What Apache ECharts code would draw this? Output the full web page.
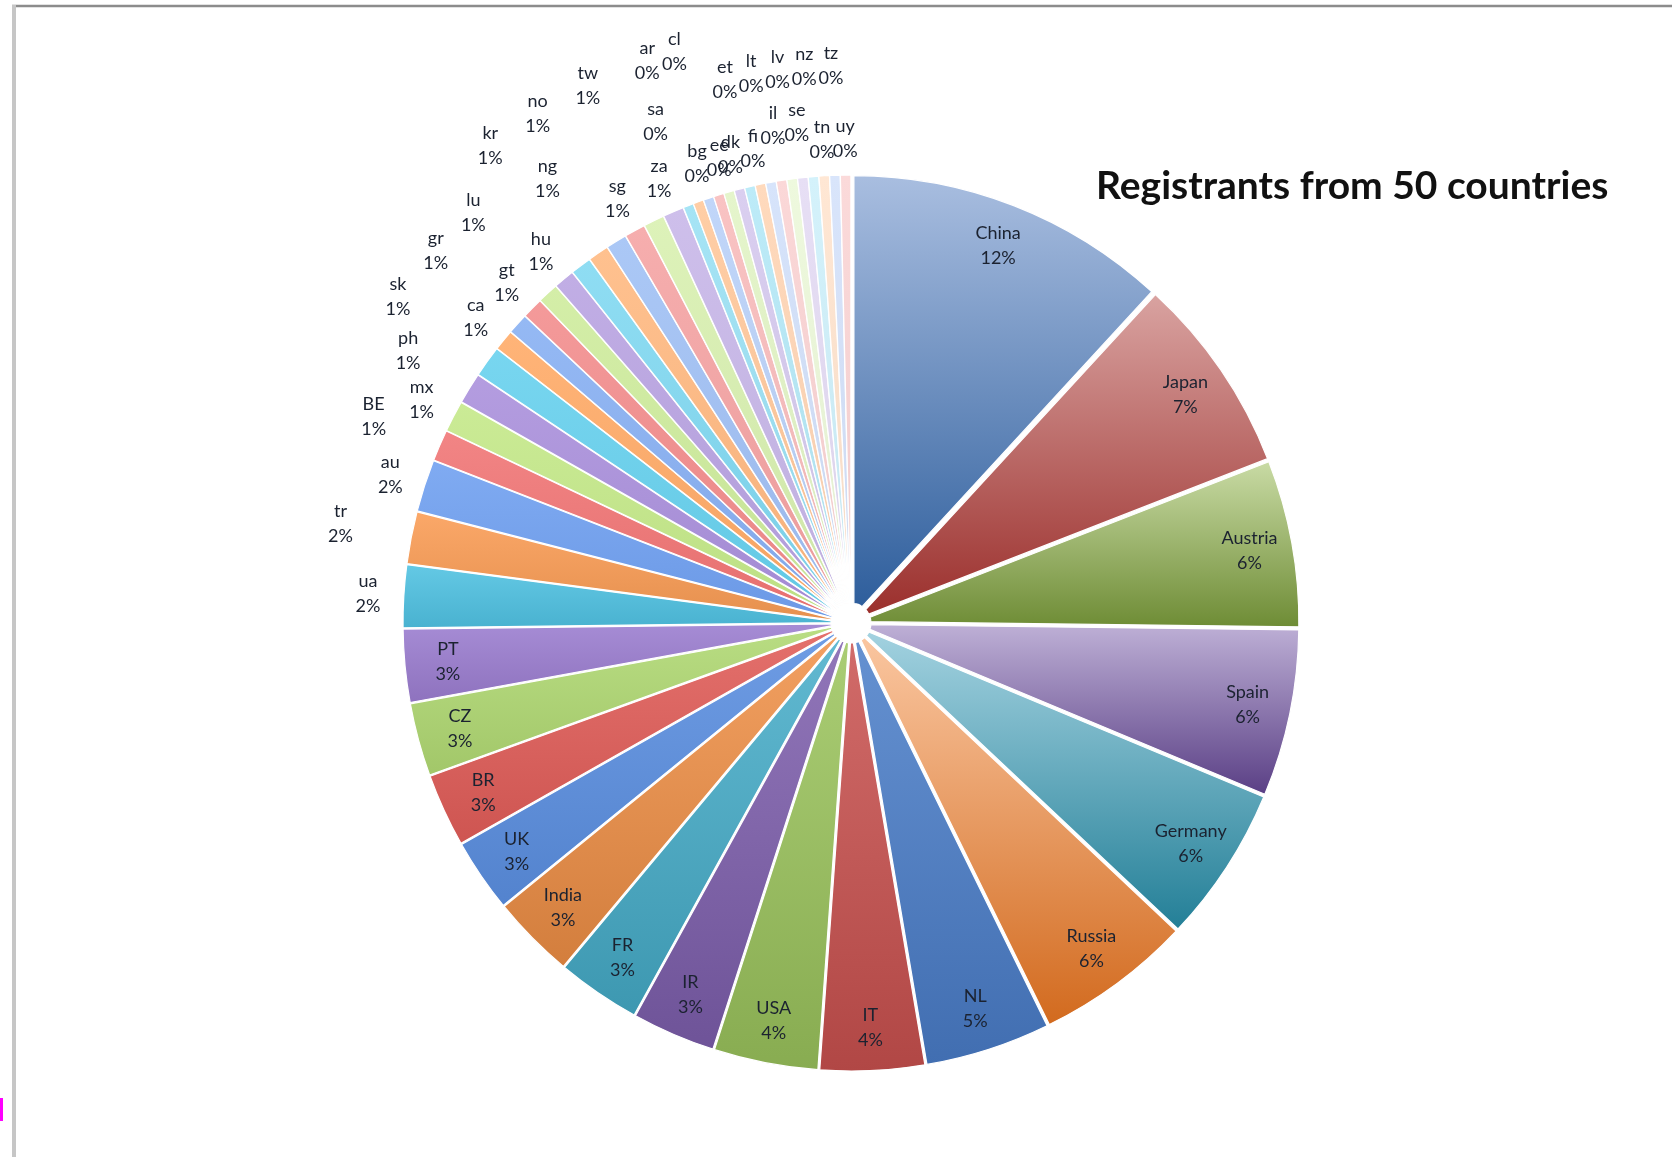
<!DOCTYPE html>
<html>
<head>
<meta charset="utf-8">
<title>Registrants from 50 countries</title>
<script src="https://cdn.jsdelivr.net/npm/echarts@6/dist/echarts.min.js"></script>
<style>
  html, body { margin: 0; padding: 0; background: #fff; }
  #chart { width: 1672px; height: 1157px; }
</style>
</head>
<body>
<div id="chart"></div>
<script>
// registrants per country, clockwise from 12 o'clock
var countries = ['China', 'Japan', 'Austria', 'Spain', 'Germany', 'Russia', 'NL', 'IT', 'USA', 'IR', 'FR', 'India', 'UK', 'BR', 'CZ', 'PT',
  'ua', 'tr', 'au', 'BE', 'mx', 'ph', 'sk', 'ca', 'gr', 'gt', 'lu', 'hu', 'kr', 'ng', 'no', 'sg', 'tw', 'za',
  'sa', 'ar', 'bg', 'cl', 'ee', 'dk', 'et', 'fi', 'lt', 'il', 'lv', 'se', 'nz', 'tn', 'tz', 'uy'];
var registrants = [31, 19, 16, 16, 15, 15, 12, 10, 10, 8, 8, 8, 7, 7, 7, 7,
  6, 5, 5, 3, 3, 3, 3, 2, 2, 2, 2, 2, 2, 2, 2, 2, 2, 2,
  1, 1, 1, 1, 1, 1, 1, 1, 1, 1, 1, 1, 1, 1, 1, 1];
var chartTitle = 'Registrants from 50 countries';

var insideCount = 16;   // slices whose label sits inside the pie
var fontName = 'Lato';

// staggering of the outside labels (ua .. uy), excel "best fit" look
var tierGap = [36, 55, 72, 90, 110, 150];
var labelTier = [0, 2, 0, 2, 0, 2, 4, 0, 4, 0, 4, 0, 5, 3, 5, 0, 5, 0,
  3, 5, 0, 5, 0, 0, 4, 0, 4, 1, 4, 1, 4, 0, 4, 0];

// excel-ish palette: accent gradient first, then brighter / paler rounds
var accentTop = ['#a9bee0', '#d9a3a1', '#c9dba5', '#beb0d6', '#a3d2e0', '#fac6a0'];
var accentBottom = ['#2e5e9c', '#9b2f2c', '#6e8c35', '#5a3f85', '#237f97', '#d26a1e'];
var shade1 = ['#4a7dc9', '#c9514e', '#9bc45c', '#7d5ead', '#45adc9', '#f08f45'];
var shade2 = ['#5a8ee0', '#e05c58', '#b0d872', '#9a7ccf', '#4fc2e2', '#fa9c55'];
var shade3 = ['#6f9ff0', '#f07474', '#c4e888', '#aa90dc', '#66d0ee', '#ffaa66'];

function mix(a, b, t) {
  var pa = parseInt(a.slice(1), 16), pb = parseInt(b.slice(1), 16);
  var r = Math.round(((pa >> 16) & 255) * (1 - t) + ((pb >> 16) & 255) * t);
  var g = Math.round(((pa >> 8) & 255) * (1 - t) + ((pb >> 8) & 255) * t);
  var bl = Math.round((pa & 255) * (1 - t) + (pb & 255) * t);
  return 'rgb(' + r + ',' + g + ',' + bl + ')';
}
function toHex(rgb) {
  var m = rgb.match(/\d+/g);
  return '#' + m.map(function (v) { return ('0' + (+v).toString(16)).slice(-2); }).join('');
}

function sliceColor(i) {
  var grp = Math.floor(i / 6), h = i % 6, top, bottom;
  if (grp === 0) {
    top = accentTop[h]; bottom = accentBottom[h];
  } else if (grp === 1) {
    top = mix(shade1[h], '#ffffff', 0.15); bottom = mix(shade1[h], '#000000', 0.12);
  } else if (grp === 2) {
    top = mix(shade2[h], '#ffffff', 0.12); bottom = mix(shade2[h], '#000000', 0.08);
  } else {
    var c = toHex(mix(shade3[h], '#ffffff', Math.min(0.7, (grp - 3) * 0.17)));
    top = mix(c, '#ffffff', 0.12); bottom = mix(c, '#000000', 0.04);
  }
  return new echarts.graphic.LinearGradient(0, 0, 0, 1, [
    { offset: 0, color: top }, { offset: 1, color: bottom }
  ]);
}

function pctLabel(p) {
  return '{t|' + p.name + '}\n{t|' + Math.round(p.percent) + '%}';
}

var pieData = countries.map(function (name, i) {
  var inside = i < insideCount;
  return {
    name: name,
    value: registrants[i],
    selected: true,
    itemStyle: { color: sliceColor(i) },
    label: { show: !inside },
    labelLine: { show: false, length: inside ? 0 : tierGap[labelTier[i - insideCount]], length2: 0 }
  };
});

var labelData = countries.map(function (name, i) {
  return { name: name, value: registrants[i], selected: true, label: { show: i < insideCount } };
});

var labelRich = { t: { fontFamily: fontName, fontSize: 18, lineHeight: 25, color: '#1b2230', align: 'center' } };

var chart = echarts.init(document.getElementById('chart'));
var option = {
  backgroundColor: '#ffffff',
  animation: false,
  title: {
    text: chartTitle,
    left: 1091,
    top: 162,
    textStyle: { fontFamily: fontName, fontSize: 39, fontWeight: 'bold', color: '#111111' }
  },
  graphic: [
    { type: 'line', shape: { x1: 12, y1: 6, x2: 1672, y2: 6 }, style: { stroke: '#8c8c8c', lineWidth: 2.5 } },
    { type: 'line', shape: { x1: 14, y1: 5, x2: 14, y2: 1157 }, style: { stroke: '#c6c6c6', lineWidth: 4 } },
    { type: 'rect', shape: { x: 0, y: 1098, width: 3, height: 23 }, style: { fill: '#ff00ff' } }
  ],
  series: [
    {
      type: 'pie',
      center: [851, 623],
      radius: [12, 440],
      startAngle: 90,
      clockwise: true,
      selectedMode: 'multiple',
      selectedOffset: 8,
      avoidLabelOverlap: false,
      emphasis: { disabled: true },
      itemStyle: { borderColor: '#ffffff', borderWidth: 1.2 },
      select: { itemStyle: { borderColor: '#ffffff', borderWidth: 1.2 } },
      label: {
        show: true,
        position: 'outside',
        distanceToLabelLine: 0,
        formatter: pctLabel,
        rich: labelRich
      },
      labelLine: { show: false },
      labelLayout: function () {
        return { align: 'center' };
      },
      data: pieData
    },
    {
      // transparent ring only used to put the big labels near the rim
      type: 'pie',
      center: [851, 623],
      radius: [348, 440],
      startAngle: 90,
      clockwise: true,
      silent: true,
      selectedMode: 'multiple',
      selectedOffset: 8,
      avoidLabelOverlap: false,
      emphasis: { disabled: true },
      itemStyle: { color: 'rgba(0,0,0,0)', borderWidth: 0 },
      select: { itemStyle: { color: 'rgba(0,0,0,0)', borderWidth: 0 } },
      label: {
        show: true,
        position: 'inside',
        formatter: pctLabel,
        rich: labelRich
      },
      labelLine: { show: false },
      data: labelData
    }
  ]
};
chart.setOption(option);
</script>
</body>
</html>
